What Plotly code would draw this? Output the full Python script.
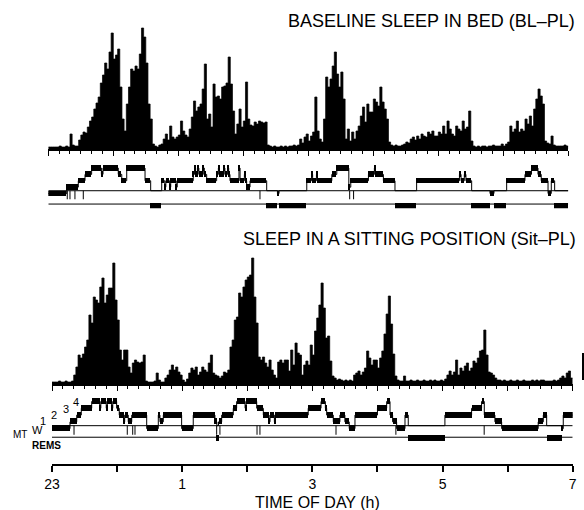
import plotly.graph_objects as go

FIG_W, FIG_H = 584, 510

# ---------------- data ----------------
BIN_MIN = 2          # minutes per slow-wave-activity bin, starting 23:00
NIGHT_END_MIN = 480  # 07:00

# Baseline sleep in bed (BL-PL): SWA per 2-min bin (arbitrary units)
A_swa = [2, 2,
         2, 2, 2, 3, 2, 2, 3, 2, 15, 4,
         3, 3, 9, 14, 17, 16, 22, 28, 32, 40,
         46, 52, 66, 74, 86, 80, 97, 116, 90, 94,
         100, 62, 30, 18, 45, 62, 80, 78, 83, 80,
         95, 121, 112, 86, 45, 30, 5, 3, 2, 4,
         5, 10, 15, 9, 23, 12, 10, 12, 14, 28,
         18, 14, 12, 20, 32, 48, 38, 42, 45, 60,
         85, 30, 35, 22, 65, 52, 53, 50, 62, 63,
         66, 92, 65, 38, 15, 25, 40, 22, 28, 67,
         30, 24, 23, 27, 25, 28, 27, 26, 27, 4,
         3, 2, 3, 2, 2, 3, 2, 3, 2, 3,
         3, 4, 3, 4, 10, 6, 12, 15, 8, 13,
         17, 52, 18, 10, 7, 30, 72, 62, 70, 83,
         97, 75, 62, 77, 50, 10, 20, 8, 17, 10,
         18, 23, 33, 42, 27, 45, 37, 37, 50, 47,
         43, 62, 47, 40, 30, 7, 4, 3, 4, 3,
         3, 4, 5, 7, 6, 10, 12, 9, 13, 10,
         15, 13, 12, 17, 15, 18, 13, 13, 17, 15,
         23, 15, 28, 20, 15, 13, 23, 20, 18, 28,
         20, 22, 38, 8, 3, 2, 3, 2, 3, 3,
         2, 3, 3, 4, 3, 3, 3, 5, 3, 5,
         7, 23, 17, 20, 28, 17, 20, 18, 30, 25,
         33, 23, 40, 50, 60, 53, 45, 8, 6, 5,
         13, 4, 3, 3, 3, 3, 4, 3]

# Sleep in a sitting position (Sit-PL): SWA per 2-min bin
B_swa = [2, 2, 2, 3, 2, 2, 3, 2, 2, 3,
         9, 17, 29, 26, 30, 37, 44, 69, 61, 87,
         84, 81, 97, 106, 81, 89, 96, 96, 121, 84,
         64, 34, 24, 34, 34, 17, 11, 21, 24, 22,
         21, 22, 29, 3, 2, 2, 2, 3, 11, 4,
         2, 2, 6, 9, 14, 19, 14, 17, 12, 9,
         4, 2, 5, 11, 16, 14, 17, 9, 12, 17,
         14, 12, 21, 29, 11, 9, 8, 6, 8, 12,
         11, 14, 37, 44, 64, 67, 91, 87, 97, 104,
         107, 109, 126, 87, 61, 27, 24, 27, 21, 17,
         24, 14, 9, 6, 22, 24, 21, 24, 24, 13,
         34, 19, 41, 31, 29, 9, 19, 23, 19, 39,
         29, 53, 66, 79, 101, 76, 46, 48, 23, 8,
         6, 4, 5, 4, 3, 4, 3, 4, 3, 9,
         11, 13, 9, 12, 16, 33, 26, 19, 24, 24,
         16, 26, 33, 50, 70, 88, 60, 30, 8, 4,
         3, 3, 8, 3, 3, 4, 3, 3, 4, 3,
         3, 4, 3, 3, 4, 3, 4, 3, 3, 4,
         3, 5, 9, 13, 9, 12, 24, 9, 16, 13,
         18, 21, 13, 16, 23, 21, 26, 33, 34, 54,
         29, 12, 11, 9, 6, 4, 4, 3, 4, 3,
         3, 4, 3, 3, 4, 3, 3, 4, 3, 3,
         3, 4, 3, 4, 3, 4, 4, 3, 3, 3,
         3, 4, 3, 4, 6, 8, 6, 11, 13, 6]

# Hypnograms: segment start (minutes after 23:00) and stage
A_seg_start = [0, 17, 27.7, 33.9, 40, 49, 50.5, 64.6, 67.8, 72.4, 89.3, 94.5,
               104.7, 107.5, 108.5, 112, 113, 118, 119, 133.8, 135, 136, 138,
               139, 143, 144, 146.2, 155.4, 157, 158, 162, 163, 165.5, 166.5,
               167.7, 176, 177, 181, 182, 183.1, 186.2, 201.6, 211.5, 213,
               238.6, 243, 244, 247.5, 248.5, 261.7, 266.3, 277.4, 279.2,
               295.5, 301, 302, 309.3, 320, 340, 379.5, 381, 384, 385.5,
               390.8, 407.7, 411.4, 423.1, 440, 446, 452, 455, 461.3, 464.3,
               467.4]
A_seg_stage = ["W", "1", "2", "3", "4", "3", "4", "3", "2", "4", "2", "R",
               "2", "1", "2", "1", "2", "1", "2", "3", "4", "3", "4",
               "3", "4", "3", "2", "3", "4", "3", "4", "3", "4", "3",
               "2", "4", "2", "3", "2", "1", "2", "R", "W", "R",
               "2", "3", "2", "3", "2", "3", "4", "1", "2",
               "3", "4", "3", "2", "R", "2", "3", "2", "3", "2",
               "R", "W", "R", "2", "3", "4", "3", "2", "W", "2",
               "R"]
A_mt = [17.5, 20, 24.6, 32.3, 195.4, 278.2, 281.8]

B_seg_start = [0, 16.6, 22.8, 27, 36.6, 44, 45, 50, 51, 55, 56, 59.6, 62, 66,
               67, 70.3, 73.5, 87.3, 98, 99.5, 102.6, 119.5, 130.2, 150.2,
               152, 153.5, 156.4, 167.1, 170.2, 178, 179, 188.7, 194.8, 200,
               201, 205, 206, 236.2, 248, 252, 253.2, 259.3, 265.4, 270, 274,
               279.3, 300, 308.5, 311.6, 314, 317.7, 325.4, 328.4, 362.2,
               386.8, 396, 398.5, 408.3, 414.5, 448.2, 452.9, 456, 469.8,
               471.3]
B_seg_stage = ["W", "1", "2", "3", "4", "3", "4", "3", "4", "3", "4", "3", "2", "1",
               "2", "1", "2", "W", "2", "1", "2", "W", "2", "1",
               "R", "1", "2", "3", "4", "3", "4", "3", "2", "1",
               "2", "1", "2", "3", "4", "3", "2", "1", "2", "1", "W",
               "2", "3", "4", "2", "1", "W", "2", "R", "2",
               "3", "4", "2", "1", "W", "1", "2", "R", "W",
               "2"]
B_mt = [20.3, 69.4, 74.4, 76.5, 151.8, 154.8, 189, 191.7, 261.8, 317, 398.4]

hour_ticks = [23, 24, 25, 26, 27, 28, 29, 30, 31]
hour_labels = ["23", "", "1", "", "3", "", "5", "", "7"]

title_A = "BASELINE SLEEP IN BED (BL–PL)"
title_B = "SLEEP IN A SITTING POSITION (Sit–PL)"
x_title = "TIME OF DAY (h)"
stage_names = ["4", "3", "2", "1", "W", "MT", "<b>REMS</b>"]

# ---------------- helpers ----------------
FONT = "Liberation Sans, Arial, Helvetica, sans-serif"
INK = "black"


def t_h(m):
    return 23 + m / 60.0


def py(p):
    return 1 - p / FIG_H


def px(p):
    return p / FIG_W


LEVEL = {"W": 0, "1": 1, "2": 2, "3": 3, "4": 4, "R": 0.44}
LINE_LVL = 0.44
MT_LOW = -0.9

fig = go.Figure()


def add_hist(vals, xa, ya):
    xs = [t_h(i * BIN_MIN) for i in range(len(vals) + 1)]
    ys = list(vals) + [vals[-1]]
    fig.add_trace(go.Scatter(
        x=xs, y=ys, mode="lines",
        line=dict(shape="hv", width=0.7, color=INK),
        fill="tozeroy", fillcolor=INK,
        xaxis=xa, yaxis=ya, hoverinfo="skip", showlegend=False))


def add_hyp(starts, stages, mts, xa, ya, rem_line, rem_bar):
    ends = list(starts[1:]) + [NIGHT_END_MIN]
    thin = dict(color=INK, width=1)
    for lvl in (LINE_LVL, rem_line):
        fig.add_trace(go.Scatter(
            x=[t_h(0), t_h(NIGHT_END_MIN)], y=[lvl, lvl], mode="lines",
            line=thin, xaxis=xa, yaxis=ya, hoverinfo="skip", showlegend=False))
    xs = [t_h(s) for s in starts] + [t_h(NIGHT_END_MIN)]
    ys = [LEVEL[s] for s in stages] + [LEVEL[stages[-1]]]
    fig.add_trace(go.Scatter(
        x=xs, y=ys, mode="lines", line=dict(shape="hv", color=INK, width=1),
        xaxis=xa, yaxis=ya, hoverinfo="skip", showlegend=False))
    base = [t_h(s) for s in starts]
    dur = [(e - s) / 60.0 for s, e in zip(starts, ends)]
    lv = [rem_bar if st == "R" else LEVEL[st] for st in stages]
    fig.add_trace(go.Bar(
        orientation="h", base=base, x=dur, y=lv, width=0.88,
        marker=dict(color=INK, line=dict(width=0)),
        xaxis=xa, yaxis=ya, hoverinfo="skip", showlegend=False))
    mx, my = [], []
    for m in mts:
        mx += [t_h(m), t_h(m), None]
        my += [LINE_LVL, MT_LOW, None]
    fig.add_trace(go.Scatter(
        x=mx, y=my, mode="lines", line=thin,
        xaxis=xa, yaxis=ya, hoverinfo="skip", showlegend=False))


add_hist(A_swa, "x", "y")
add_hyp(A_seg_start, A_seg_stage, A_mt, "x2", "y2", -1.65, -1.95)
add_hist(B_swa, "x3", "y3")
add_hyp(B_seg_start, B_seg_stage, B_mt, "x4", "y4", -1.26, -1.45)
# invisible trace carrying the time-of-day axis
fig.add_trace(go.Scatter(x=[23, 31], y=[0, 0], mode="lines",
                         line=dict(width=0, color="rgba(0,0,0,0)"),
                         xaxis="x5", yaxis="y5", hoverinfo="skip",
                         showlegend=False))

XR = [23, 31]
XD_A = [px(48.3), px(568.3)]
XD_B = [px(52), px(572.7)]


def ydom(top, bottom):
    return [py(bottom), py(top)]


hist_x = dict(range=XR, showline=True, linecolor=INK, linewidth=1.5,
              ticks="outside", ticklen=5, tickwidth=1.3, tickcolor=INK,
              tickmode="linear", tick0=23, dtick=1, showticklabels=False,
              showgrid=False, zeroline=False, automargin=False,
              minor=dict(ticks="outside", ticklen=3, tickwidth=1,
                         tickcolor=INK, dtick=1 / 6, showgrid=False))
hid_x = dict(range=XR, visible=False, automargin=False)
hid_y = dict(visible=False, fixedrange=True, automargin=False)

fig.update_layout(
    width=FIG_W, height=FIG_H,
    margin=dict(l=0, r=0, t=0, b=0, autoexpand=False),
    paper_bgcolor="white", plot_bgcolor="rgba(0,0,0,0)",
    barmode="overlay", bargap=0,
    showlegend=False,
    font=dict(family=FONT, color=INK),
    xaxis=dict(domain=XD_A, anchor="y", **hist_x),
    yaxis=dict(domain=ydom(19, 149), range=[0, 130], anchor="x", **hid_y),
    xaxis2=dict(domain=XD_A, anchor="y2", **hid_x),
    yaxis2=dict(domain=ydom(164.2, 208.2), range=[-2.3, 4.6], anchor="x2", **hid_y),
    xaxis3=dict(domain=XD_B, anchor="y3", **hist_x),
    yaxis3=dict(domain=ydom(254, 384), range=[0, 130], anchor="x3", **hid_y),
    xaxis4=dict(domain=XD_B, anchor="y4", **hid_x),
    yaxis4=dict(domain=ydom(397.4, 444.3), range=[-2.3, 4.6], anchor="x4", **hid_y),
    xaxis5=dict(domain=XD_B, anchor="y5", range=XR, showline=True,
                linecolor=INK, linewidth=2, ticks="outside", ticklen=6,
                tickwidth=1.5, tickcolor=INK, tickmode="array",
                tickvals=hour_ticks, ticktext=hour_labels, automargin=False,
                tickfont=dict(size=14, family=FONT, color=INK),
                showgrid=False, zeroline=False),
    yaxis5=dict(domain=ydom(455, 464), range=[0, 1], anchor="x5", **hid_y),
)

ann = []
ann.append(dict(text=title_A, x=px(577), y=py(21), xanchor="right",
                yanchor="middle", font=dict(size=18, family=FONT, color=INK)))
ann.append(dict(text=title_B, x=px(578), y=py(239), xanchor="right",
                yanchor="middle", font=dict(size=18, family=FONT, color=INK)))
ann.append(dict(text=x_title, x=px(317), y=py(502), xanchor="center",
                yanchor="middle", font=dict(size=16, family=FONT, color=INK)))
label_pos = [(75.5, 401.5), (65.5, 408.5), (53.5, 414.5), (42.5, 420.5),
             (37.5, 429.5), (19.5, 434), (46, 445)]
label_size = [11, 11, 11, 11, 11, 10, 10]
for name, (lx, ly), fs in zip(stage_names, label_pos, label_size):
    ann.append(dict(text=name, x=px(lx), y=py(ly), xanchor="center",
                    yanchor="middle", font=dict(size=fs, family=FONT, color=INK)))
for a in ann:
    a.update(xref="paper", yref="paper", showarrow=False)
fig.update_layout(annotations=ann)

# calibration bar at right edge
fig.add_shape(type="line", xref="paper", yref="paper",
              x0=px(583), x1=px(583), y0=py(380), y1=py(353),
              line=dict(color=INK, width=2))

fig.write_html("out.html")
